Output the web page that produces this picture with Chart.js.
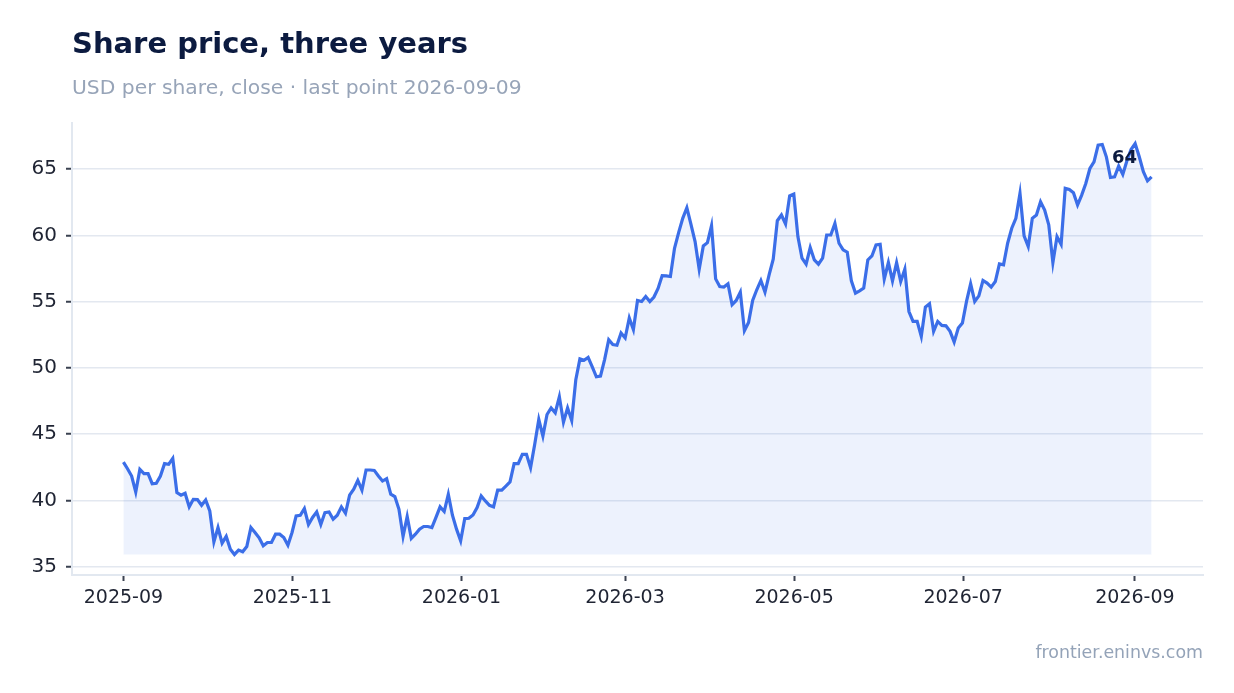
<!DOCTYPE html>
<html>
<head>
<meta charset="utf-8">
<script src="https://cdn.jsdelivr.net/npm/chart.js@4.4.1/dist/chart.umd.min.js"></script>
<style>
  html, body { margin: 0; padding: 0; background: #ffffff; }
  #wrap { width: 1234px; height: 693px; position: relative; }
  canvas { display: block; }
</style>
</head>
<body>
<div id="wrap"><canvas id="c"></canvas></div>
<script>
// ---- data ----
const TITLE = 'Share price, three years';
const SUBTITLE = 'USD per share, close \u00b7 last point 2026-09-09';
const SOURCE = 'frontier.eninvs.com';
const firstDate = '2025-09-01';
const lastDate = '2026-09-07';
const closePrices = [
  42.90, 42.40, 41.85, 40.64, 42.35, 42.03, 42.03, 41.27, 41.30, 41.85, 42.78, 42.73, 43.18, 40.60, 40.40, 40.55, 39.52, 40.09, 40.07, 39.64, 40.04, 39.21, 36.88, 37.96, 36.78, 37.29, 36.33, 35.93, 36.26, 36.13, 36.53, 37.96, 37.59, 37.18, 36.58, 36.83, 36.83, 37.46, 37.46, 37.21, 36.63, 37.59, 38.84, 38.89,
  39.39, 38.19, 38.72, 39.14, 38.19, 39.09, 39.14, 38.59, 38.89, 39.52, 39.04, 40.40, 40.85, 41.52, 40.79, 42.30, 42.30, 42.27, 41.85, 41.47, 41.65, 40.47, 40.30, 39.34, 37.29, 38.79, 37.14, 37.46, 37.84, 38.04, 38.04, 37.96, 38.72, 39.52, 39.17, 40.47, 38.89, 37.84, 36.96, 38.64, 38.66, 38.91, 39.47, 40.34,
  39.97, 39.64, 39.52, 40.79, 40.79, 41.09, 41.40, 42.78, 42.78, 43.48, 43.48, 42.48, 44.23, 46.11, 44.86, 46.49, 46.99, 46.62, 47.82, 45.91, 46.99, 46.04, 49.12, 50.68, 50.58, 50.80, 50.08, 49.33, 49.38, 50.63, 52.13, 51.76, 51.71, 52.64, 52.26, 53.77, 52.89, 55.09, 55.01, 55.39, 55.01,
  55.35, 56.00, 56.97, 56.95, 56.90, 59.03, 60.21, 61.29, 62.09, 60.84, 59.53, 57.45, 59.21, 59.45, 60.73, 56.72, 56.14, 56.10, 56.35, 54.77, 55.09, 55.72, 52.81, 53.43, 55.09, 55.90, 56.60, 55.72, 57.02, 58.21, 61.11, 61.54, 60.86, 62.99, 63.12, 59.91, 58.28, 57.83, 59.08, 58.15, 57.83,
  58.28, 60.03, 60.03, 60.91, 59.41, 58.91, 58.73, 56.57, 55.65, 55.82, 56.02, 58.15, 58.45, 59.28, 59.33, 56.70, 57.95, 56.57, 57.95, 56.52, 57.45, 54.26, 53.51, 53.51, 52.38, 54.59, 54.84, 52.76, 53.51, 53.21, 53.18, 52.76, 51.96, 53.01, 53.39, 55.02, 56.35, 55.02, 55.44, 56.60, 56.40, 56.10, 56.52, 57.85,
  57.78, 59.41, 60.54, 61.29, 63.17, 59.96, 59.16, 61.29, 61.54, 62.54, 61.91, 60.79, 57.95, 59.91, 59.33, 63.55, 63.47, 63.22, 62.29, 63.04, 63.92, 65.05, 65.55, 66.81, 66.86, 65.93, 64.37, 64.42, 65.23, 64.60, 65.63, 66.48, 66.93, 65.93, 64.80, 64.12, 64.42
];
const xTickLabels = ['2025-09', '2025-11', '2026-01', '2026-03', '2026-05', '2026-07', '2026-09'];
const yTickValues = [35, 40, 45, 50, 55, 60, 65];

// ---- derived ----
const DAY = 864e5;
const t0 = Date.parse(firstDate + 'T00:00:00Z');
const dayOf = s => (Date.parse(s + 'T00:00:00Z') - t0) / DAY;
const span = dayOf(lastDate);
const points = closePrices.map((v, i) => ({ x: i * span / (closePrices.length - 1), y: v }));
const vMin = Math.min(...closePrices);
const vMax = Math.max(...closePrices);
const yPad = (vMax - vMin) * 0.05;
const xPad = span * 0.05;

const FONT = '"DejaVu Sans", "Noto Sans", sans-serif';
Chart.defaults.font.family = FONT;

const textPlugin = {
  id: 'texts',
  afterDraw(chart) {
    const ctx = chart.ctx;
    const ca = chart.chartArea;
    ctx.save();
    ctx.textBaseline = 'alphabetic';
    ctx.textAlign = 'left';
    ctx.fillStyle = '#0c1b40';
    ctx.font = 'bold 29px ' + FONT;
    ctx.fillText(TITLE, ca.left, 53);
    ctx.fillStyle = '#97a4b8';
    ctx.font = '20.3px ' + FONT;
    ctx.fillText(SUBTITLE, ca.left, 94);
    ctx.textAlign = 'right';
    ctx.font = '17.4px ' + FONT;
    ctx.fillStyle = '#94a3b8';
    ctx.fillText(SOURCE, ca.right, 658);
    // last value label
    const meta = chart.getDatasetMeta(0);
    const last = meta.data[meta.data.length - 1];
    ctx.textAlign = 'center';
    ctx.font = 'bold 18px ' + FONT;
    ctx.fillStyle = '#0c1b40';
    ctx.fillText(String(Math.round(closePrices[closePrices.length - 1])), last.x - 27, last.y - 14);
    ctx.restore();
  }
};

new Chart(document.getElementById('c'), {
  type: 'line',
  data: {
    datasets: [{
      data: points,
      borderColor: '#3b6ee8',
      backgroundColor: 'rgba(59,110,232,0.09)',
      borderWidth: 3.2,
      pointRadius: 0,
      tension: 0,
      fill: { value: vMin }
    }]
  },
  options: {
    responsive: true,
    maintainAspectRatio: false,
    animation: false,
    layout: { padding: { top: 123, right: 31, bottom: 0, left: 0 } },
    plugins: { legend: { display: false }, title: { display: false }, tooltip: { enabled: false } },
    scales: {
      x: {
        type: 'linear',
        min: -xPad,
        max: span + xPad,
        afterBuildTicks: s => { s.ticks = xTickLabels.map(l => ({ value: dayOf(l + '-01') })); },
        afterFit: s => { s.height = 118; },
        ticks: {
          callback: (v, i) => xTickLabels[i],
          color: '#1f2433',
          font: { size: 19 },
          padding: 6,
          maxRotation: 0,
          autoSkip: false
        },
        grid: { drawOnChartArea: false, drawTicks: true, tickLength: 6, tickColor: '#3a4150', tickWidth: 2 },
        border: { color: '#e2e8f0', width: 2 }
      },
      y: {
        type: 'linear',
        min: vMin - yPad,
        max: vMax + yPad,
        afterBuildTicks: s => { s.ticks = yTickValues.map(v => ({ value: v })); },
        afterFit: s => { s.width = 72; },
        ticks: { color: '#1f2433', font: { size: 20 }, padding: 9 },
        grid: { color: '#e3e8f0', lineWidth: 1.5, tickLength: 6, tickColor: '#3a4150', tickWidth: 2 },
        border: { color: '#e2e8f0', width: 2 }
      }
    }
  },
  plugins: [textPlugin]
});
</script>
</body>
</html>
